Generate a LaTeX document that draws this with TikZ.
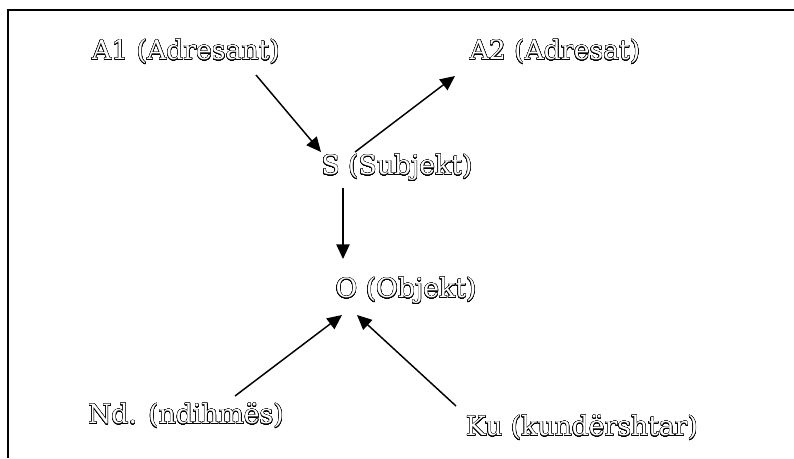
\documentclass[tikz,border=0pt]{standalone}
\usepackage{fontspec}
\setmainfont{DejaVu Serif}
\usepackage{contour}
\contourlength{0.28pt}
\contournumber{32}
\usetikzlibrary{arrows.meta,calc}

\tikzset{
  role/.style={inner sep=0pt, text=white, font=\fontsize{20}{24}\selectfont},
  arr/.style={-{Triangle[length=11pt,width=10pt]}, line width=1.1pt},
}
\newcommand{\hollow}[1]{\contour{black}{#1}}

\begin{document}
\begin{tikzpicture}[x=0.75pt,y=-0.75pt]
  \useasboundingbox (0,0) rectangle (794,458);
  % frame, only top and left edges
  \draw[line width=1.5pt] (794,10) -- (8,10) -- (8,458);

  % actants
  \node[role] (a1) at (186,52)  {\hollow{A1 (Adresant)}};
  \node[role] (a2) at (555,52)  {\hollow{A2 (Adresat)}};
  \node[role] (s)  at (397,168) {\hollow{S (Subjekt)}};
  \node[role] (o)  at (406,291) {\hollow{O (Objekt)}};
  \node[role] (nd) at (186,416) {\hollow{Nd. (ndihmës)}};
  \node[role] (ku) at (582,428) {\hollow{Ku (kundërshtar)}};

  % relations
  \draw[arr] ($(a1.center)+(70,23)$)   -- ($(s.center)+(-76,-16)$);
  \draw[arr] ($(s.center)+(-42,-16)$)  -- ($(a2.center)+(-100,24)$);
  \draw[arr] ($(s.center)+(-54,20)$)   -- ($(o.center)+(-63,-32)$);
  \draw[arr] ($(nd.center)+(49,-20)$)  -- ($(o.center)+(-64,24)$);
  \draw[arr] ($(ku.center)+(-126,-22)$) -- ($(o.center)+(-49,24)$);
\end{tikzpicture}
\end{document}
